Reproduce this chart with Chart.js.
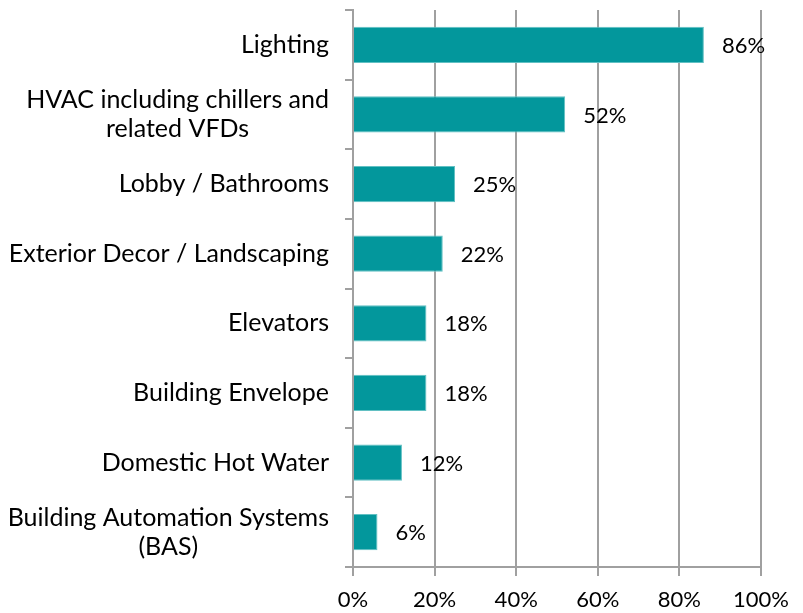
<!DOCTYPE html>
<html>
<head>
<meta charset="utf-8">
<script src="https://cdn.jsdelivr.net/npm/chart.js@4/dist/chart.umd.min.js"></script>
<style>
  html, body { margin: 0; padding: 0; background: #fff; }
  #wrap { width: 803px; height: 613px; }
</style>
</head>
<body>
<div id="wrap"><canvas id="myChart" width="803" height="613"></canvas></div>
<script>
// categories (multi-line labels as arrays)
var categories = [
    'Lighting',
    ['HVAC including chillers and', 'related VFDs'],
    'Lobby / Bathrooms',
    'Exterior Decor / Landscaping',
    'Elevators',
    'Building Envelope',
    'Domestic Hot Water',
    ['Building Automation Systems', '(BAS)']
];
var shares = [86, 52, 25, 22, 18, 18, 12, 6];
var xTicks = [0, 20, 40, 60, 80, 100];

var FONT = 'Lato, "Open Sans", sans-serif';
var FONT_SIZE = 22;
var CAT_SIZE = 25;
var barColor = '#03979C';
var gridColor = '#a0a0a0';

// draws category names left of the axis and value labels after the bars
var labelPlugin = {
    id: 'labels',
    afterDraw: function (chart) {
        var ctx = chart.ctx;
        var y = chart.scales.y;
        var x = chart.scales.x;
        ctx.save();
        ctx.font = CAT_SIZE + 'px ' + FONT;
        ctx.fillStyle = '#000';
        ctx.textBaseline = 'middle';
        var right = chart.chartArea.left - 24;
        var lineH = 29;
        categories.forEach(function (cat, i) {
            var cy = y.getPixelForValue(i);
            var lines = Array.isArray(cat) ? cat : [cat];
            var widest = Math.max.apply(null, lines.map(function (l) { return ctx.measureText(l).width; }));
            var top = cy - (lines.length - 1) * lineH / 2;
            lines.forEach(function (l, j) {
                if (lines.length > 1) {
                    ctx.textAlign = 'center';
                    ctx.fillText(l, right - widest / 2, top + j * lineH);
                } else {
                    ctx.textAlign = 'right';
                    ctx.fillText(l, right, top + j * lineH);
                }
            });
        });
        ctx.font = FONT_SIZE + 'px ' + FONT;
        ctx.textAlign = 'left';
        var meta = chart.getDatasetMeta(0);
        meta.data.forEach(function (bar, i) {
            ctx.fillText(shares[i] + '%', x.getPixelForValue(shares[i]) + 18, bar.y + 1);
        });
        ctx.restore();
    }
};

var ctx = document.getElementById('myChart').getContext('2d');
var myChart = new Chart(ctx, {
    type: 'bar',
    data: {
        labels: categories,
        datasets: [{
            data: shares,
            backgroundColor: barColor,
            borderColor: '#62C0C3',
            borderWidth: 1,
            barPercentage: 0.52,
            categoryPercentage: 1
        }]
    },
    options: {
        indexAxis: 'y',
        responsive: false,
        animation: false,
        layout: { padding: { top: 10, right: 42, left: 0, bottom: 0 } },
        plugins: {
            legend: { display: false },
            tooltip: { enabled: false }
        },
        scales: {
            x: {
                min: 0,
                max: 100,
                afterBuildTicks: function (s) {
                    s.ticks = xTicks.map(function (v) { return { value: v }; });
                },
                afterFit: function (s) { s.height = 46; },
                grid: { color: gridColor, lineWidth: 2, tickLength: 9 },
                border: { color: gridColor, width: 2 },
                ticks: {
                    color: '#000',
                    padding: 11,
                    maxRotation: 0,
                    font: { family: FONT, size: FONT_SIZE },
                    callback: function (v) { return v + '%'; }
                }
            },
            y: {
                afterFit: function (s) { s.width = 353; },
                grid: { color: gridColor, lineWidth: 2, tickLength: 8, offset: true, drawOnChartArea: false },
                border: { color: gridColor, width: 2 },
                ticks: { display: false }
            }
        }
    },
    plugins: [labelPlugin]
});
</script>
</body>
</html>
